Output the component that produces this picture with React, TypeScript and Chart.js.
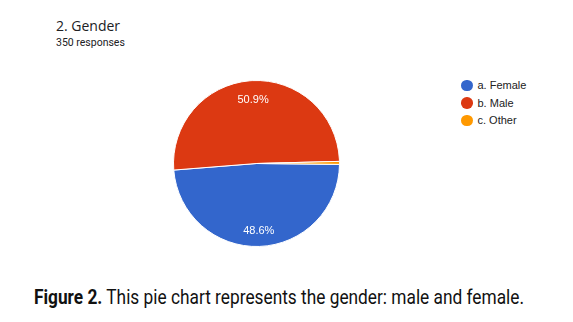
import React, { useEffect, useLayoutEffect, useRef } from "react";
import { Chart, registerables } from "chart.js";

Chart.register(...registerables);

// Survey question and answers
const questionTitle = "2. Gender";
const responseCount = "350 responses";
const categories = ["a. Female", "b. Male", "c. Other"];
const responses = [170, 178, 2];
const sliceColors = ["#3366cc", "#dc3912", "#ff9900"];
const captionLead = "Figure 2.";
const captionText = " This pie chart represents the gender: male and female.";

// Writes the percentage share inside each slice that is large enough to hold it
const sliceLabels = {
  id: "sliceLabels",
  afterDatasetsDraw(chart: any) {
    const { ctx } = chart;
    const meta = chart.getDatasetMeta(0);
    const values = chart.data.datasets[0].data as number[];
    const total = values.reduce((a, b) => a + b, 0);
    ctx.save();
    ctx.font = '11px "Liberation Sans", Arial, sans-serif';
    ctx.fillStyle = "#ffffff";
    ctx.textAlign = "center";
    ctx.textBaseline = "middle";
    meta.data.forEach((arc: any, i: number) => {
      const share = values[i] / total;
      if (share < 0.05) return;
      const { x, y, startAngle, endAngle, outerRadius } = arc.getProps(
        ["x", "y", "startAngle", "endAngle", "outerRadius"],
        true
      );
      const mid = (startAngle + endAngle) / 2;
      const r = outerRadius * 0.785;
      ctx.fillText(
        (share * 100).toFixed(1) + "%",
        x + Math.cos(mid) * r,
        y + Math.sin(mid) * r + 2
      );
    });
    ctx.restore();
  },
};

function GenderPie() {
  const canvasRef = useRef<HTMLCanvasElement>(null);
  useEffect(() => {
    const chart = new Chart(canvasRef.current!, {
      type: "pie",
      data: {
        labels: categories,
        datasets: [
          {
            data: responses,
            backgroundColor: sliceColors,
            borderColor: "#ffffff",
            borderWidth: 1,
          },
        ],
      },
      options: {
        responsive: false,
        animation: false,
        rotation: 90.6,
        layout: { padding: 0 },
        plugins: {
          legend: { display: false },
          tooltip: { enabled: false },
        },
      },
      plugins: [sliceLabels],
    });
    return () => chart.destroy();
  }, []);
  return (
    <canvas
      ref={canvasRef}
      width={167}
      height={167}
      style={{ position: "absolute", left: 173, top: 80, width: 167, height: 167 }}
    />
  );
}

function Legend() {
  return (
    <div style={{ position: "absolute", left: 461, top: 76.5 }}>
      {categories.map((name, i) => (
        <div
          key={name}
          style={{
            display: "flex",
            alignItems: "center",
            height: 17.5,
            fontFamily: '"Liberation Sans", Arial, sans-serif',
            fontSize: 11,
            color: "#222222",
            whiteSpace: "nowrap",
          }}
        >
          <span
            style={{
              display: "inline-block",
              width: 11.5,
              height: 11.5,
              borderRadius: "50%",
              background: sliceColors[i],
              marginRight: 5,
              flex: "none",
            }}
          />
          <span style={{ lineHeight: "11px", position: "relative", top: 0.5 }}>{name}</span>
        </div>
      ))}
    </div>
  );
}

function Caption() {
  const ref = useRef<HTMLDivElement>(null);
  useLayoutEffect(() => {
    const el = ref.current!;
    el.style.transform = "none";
    const w = el.getBoundingClientRect().width;
    el.style.transform = `scaleX(${490 / w})`;
  }, []);
  return (
    <div
      ref={ref}
      style={{
        position: "absolute",
        left: 34,
        top: 288.2,
        fontFamily: 'Roboto, "Liberation Sans", sans-serif',
        fontSize: 19.5,
        lineHeight: "19px",
        color: "#111111",
        whiteSpace: "nowrap",
        transformOrigin: "0 0",
      }}
    >
      <b style={{ fontWeight: 700 }}>{captionLead}</b>
      <span>{captionText}</span>
    </div>
  );
}

export default function App() {
  return (
    <div
      style={{
        position: "fixed",
        left: 0,
        top: 0,
        width: 573,
        height: 322,
        background: "#ffffff",
        overflow: "hidden",
      }}
    >
      <div
        style={{
          position: "absolute",
          left: 56,
          top: 18.6,
          fontFamily: '"Open Sans", sans-serif',
          fontSize: 14,
          lineHeight: "14px",
          color: "#202124",
          whiteSpace: "nowrap",
        }}
      >
        {questionTitle}
      </div>
      <div
        style={{
          position: "absolute",
          left: 56,
          top: 37,
          fontFamily: "Roboto, sans-serif",
          fontSize: 10.5,
          lineHeight: "11px",
          color: "#202124",
          whiteSpace: "nowrap",
        }}
      >
        {responseCount}
      </div>
      <GenderPie />
      <Legend />
      <Caption />
    </div>
  );
}
